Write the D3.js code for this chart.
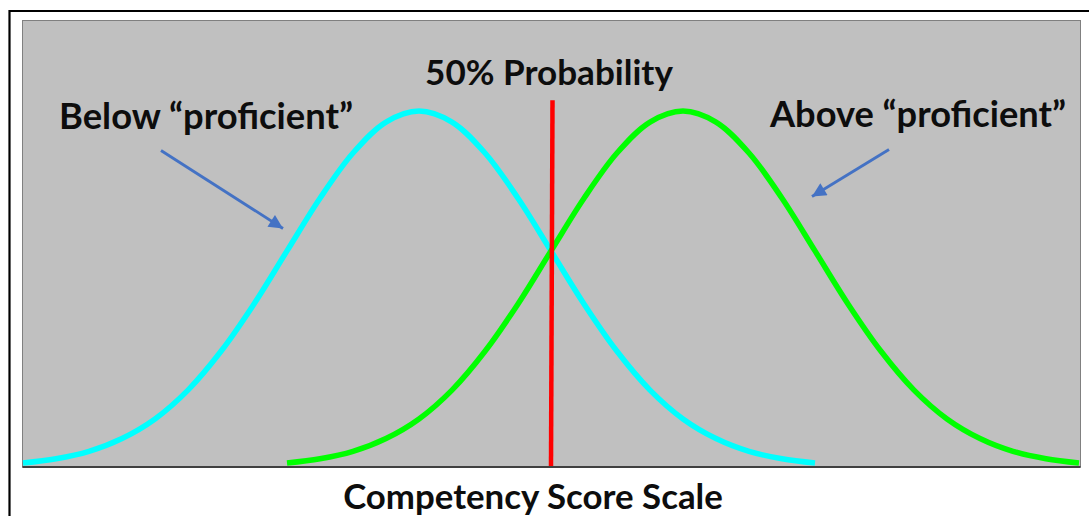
<!DOCTYPE html>
<html>
<head>
<meta charset="utf-8">
<script src="https://cdn.jsdelivr.net/npm/d3@7"></script>
<style>
  html, body { margin: 0; padding: 0; background: #ffffff; }
  svg { display: block; }
  text { font-family: Lato, "Open Sans", sans-serif; font-weight: bold; fill: #0d0d0d; }
</style>
</head>
<body>
<svg id="chart" width="1089" height="516"></svg>
<script>
// ---- data ----
// score positions (in SD units of the scale) and relative curve height
const belowX = [-4,-3.75,-3.5,-3.25,-3,-2.75,-2.5,-2.25,-2,-1.75,-1.5,-1.25,-1,-0.75,-0.5,-0.25,0,0.25,0.5,0.75,1,1.25,1.5,1.75,2];
const belowY = [0.011,0.023,0.044,0.080,0.135,0.216,0.325,0.458,0.607,0.755,0.882,0.969,1.000,0.969,0.882,0.755,0.607,0.458,0.325,0.216,0.135,0.080,0.044,0.023,0.011];
const aboveX = [-2,-1.75,-1.5,-1.25,-1,-0.75,-0.5,-0.25,0,0.25,0.5,0.75,1,1.25,1.5,1.75,2,2.25,2.5,2.75,3,3.25,3.5,3.75,4];
const aboveY = [0.011,0.023,0.044,0.080,0.135,0.216,0.325,0.458,0.607,0.755,0.882,0.969,1.000,0.969,0.882,0.755,0.607,0.458,0.325,0.216,0.135,0.080,0.044,0.023,0.011];
const cutScore = 0;          // 50% probability point
const cutTop = 1.03;         // top of the cut line (relative height)
const labels = {
  cut: "50% Probability",
  below: "Below \u201cproficient\u201d",
  above: "Above \u201cproficient\u201d",
  axis: "Competency Score Scale"
};

// ---- layout ----
const svg = d3.select("#chart");
const plot = { left: 22.5, top: 20.5, right: 1080.5, bottom: 467 };

const x = d3.scaleLinear().domain([-4, 4]).range([23, 1079]);
const y = d3.scaleLinear().domain([0, 1]).range([467, 111]);

// outer frame
svg.append("path")
  .attr("d", "M9.5,516 L9.5,11 L1089,11")
  .attr("fill", "none").attr("stroke", "#000").attr("stroke-width", 2.2);

// plot area
svg.append("rect")
  .attr("x", plot.left).attr("y", plot.top)
  .attr("width", plot.right - plot.left).attr("height", plot.bottom - plot.top)
  .attr("fill", "#c0c0c0").attr("stroke", "#808080").attr("stroke-width", 1);

const line = d3.line()
  .x(d => x(d[0])).y(d => y(d[1]))
  .curve(d3.curveCatmullRom.alpha(0.5));

svg.append("path")
  .datum(belowX.map((v, i) => [v, belowY[i]]))
  .attr("d", line).attr("fill", "none")
  .attr("stroke", "#00ffff").attr("stroke-width", 5.5).attr("stroke-linecap", "butt");

svg.append("path")
  .datum(aboveX.map((v, i) => [v, aboveY[i]]))
  .attr("d", line).attr("fill", "none")
  .attr("stroke", "#00ff00").attr("stroke-width", 5.5).attr("stroke-linecap", "butt");

// baseline axis
svg.append("line")
  .attr("x1", plot.left).attr("x2", plot.right)
  .attr("y1", plot.bottom).attr("y2", plot.bottom)
  .attr("stroke", "#404040").attr("stroke-width", 1.8);

// cut line
svg.append("line")
  .attr("x1", x(cutScore) + 1.5).attr("x2", x(cutScore))
  .attr("y1", y(cutTop)).attr("y2", plot.bottom - 1)
  .attr("stroke", "#ff0000").attr("stroke-width", 4.5);

// arrows
const defs = svg.append("defs");
defs.append("marker")
  .attr("id", "head").attr("viewBox", "0 0 10 10")
  .attr("refX", 10).attr("refY", 5)
  .attr("markerWidth", 6).attr("markerHeight", 5)
  .attr("markerUnits", "strokeWidth").attr("orient", "auto")
  .append("path").attr("d", "M0,0 L10,5 L0,10 Z").attr("fill", "#4472c4");

function arrow(x1, y1, x2, y2) {
  svg.append("line")
    .attr("x1", x1).attr("y1", y1).attr("x2", x2).attr("y2", y2)
    .attr("stroke", "#4472c4").attr("stroke-width", 2.8)
    .attr("marker-end", "url(#head)");
}
arrow(161, 150.5, 283, 228.5);
arrow(889, 149.5, 812, 196.5);

// text with width fitting
function fitText(str, cx, baseline, targetW, anchor) {
  const t = svg.append("text").text(str)
    .attr("x", cx).attr("y", baseline)
    .attr("text-anchor", anchor || "middle")
    .style("font-size", "28px");
  const w = t.node().getComputedTextLength();
  t.style("font-size", (28 * targetW / w).toFixed(2) + "px");
  return t;
}
fitText(labels.cut, 549, 85, 248);
fitText(labels.below, 59, 129, 294, "start");
fitText(labels.above, 770, 127, 296, "start");
fitText(labels.axis, 533, 509, 380);
</script>
</body>
</html>
